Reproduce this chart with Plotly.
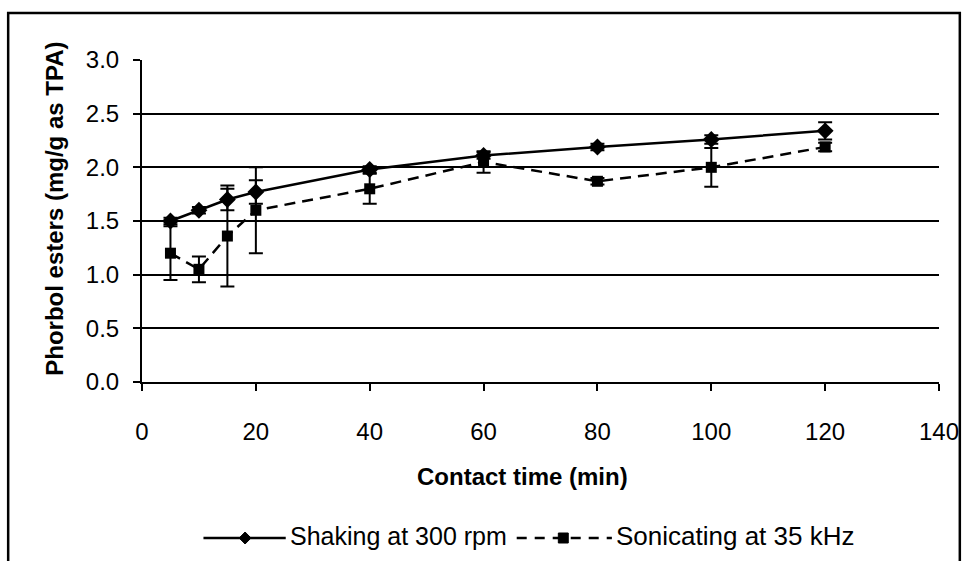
import plotly.graph_objects as go

# Contact time (min)
contact_time = [5, 10, 15, 20, 40, 60, 80, 100, 120]

# Phorbol ester yield (mg/g as TPA) and standard deviations
shaking = [1.50, 1.60, 1.70, 1.77, 1.98, 2.11, 2.19, 2.26, 2.34]
shaking_err = [0.03, 0.03, 0.10, 0.11, 0.03, 0.03, 0.03, 0.04, 0.08]

sonicating = [1.20, 1.05, 1.36, 1.60, 1.80, 2.05, 1.87, 2.00, 2.19]
sonicating_err = [0.25, 0.12, 0.47, 0.40, 0.14, 0.10, 0.03, 0.18, 0.04]

y_ticks = [0.0, 0.5, 1.0, 1.5, 2.0, 2.5, 3.0]
x_ticks = [0, 20, 40, 60, 80, 100, 120, 140]

series_names = ["Shaking at 300 rpm", "Sonicating at 35 kHz"]

FONT = "Liberation Sans, Arial, sans-serif"
DASH = "11px,7px"

fig = go.Figure()

fig.add_trace(go.Scatter(
    x=contact_time, y=shaking, name=series_names[0],
    mode="lines+markers", showlegend=False,
    line=dict(color="black", width=2.5),
    marker=dict(symbol="diamond", size=13, color="black"),
    error_y=dict(type="data", array=shaking_err, visible=True,
                 color="black", thickness=2, width=7),
))

fig.add_trace(go.Scatter(
    x=contact_time, y=sonicating, name=series_names[1],
    mode="lines+markers", showlegend=False,
    line=dict(color="black", width=2.5, dash=DASH),
    marker=dict(symbol="square", size=11, color="black"),
    error_y=dict(type="data", array=sonicating_err, visible=True,
                 color="black", thickness=2, width=7),
))

# plot-area edges in pixels, used to place the frame, titles and legend
L, R, T, B = 142, 946, 60, 382
W, H = 971, 561
def px_x(p):
    return (p - L) / (R - L)
def px_y(p):
    return (B - p) / (B - T)

# chart-area frame
fig.add_shape(type="rect", xref="paper", yref="paper",
              x0=px_x(7), x1=px_x(967), y0=px_y(566), y1=px_y(13),
              line=dict(color="black", width=2.5), layer="below")

# axis titles
fig.add_annotation(xref="paper", yref="paper", x=px_x(53), y=px_y(209),
                   text="<b>Phorbol esters (mg/g as TPA)</b>", textangle=-90,
                   showarrow=False, xanchor="center", yanchor="middle",
                   font=dict(family=FONT, size=24, color="black"))

fig.add_annotation(xref="paper", yref="paper", x=px_x(526), y=px_y(476),
                   text="<b>Contact time (min)</b>",
                   showarrow=False, xanchor="center", yanchor="middle",
                   font=dict(family=FONT, size=24, color="black"))

# legend below the chart: long line samples with the marker in the middle
LEG_Y = 538
def diamond_path(cx, cy, r):
    return (f"M{px_x(cx - r)},{px_y(cy)} L{px_x(cx)},{px_y(cy - r)} "
            f"L{px_x(cx + r)},{px_y(cy)} L{px_x(cx)},{px_y(cy + r)} Z")

fig.add_shape(type="line", xref="paper", yref="paper",
              x0=px_x(204), x1=px_x(287), y0=px_y(LEG_Y), y1=px_y(LEG_Y),
              line=dict(color="black", width=2.5))
fig.add_shape(type="path", xref="paper", yref="paper",
              path=diamond_path(246, LEG_Y, 6),
              fillcolor="black", line=dict(color="black", width=1))
fig.add_annotation(xref="paper", yref="paper", x=px_x(289), y=px_y(LEG_Y - 2),
                   text=series_names[0], showarrow=False,
                   xanchor="left", yanchor="middle",
                   font=dict(family=FONT, size=25, color="black"))

fig.add_shape(type="line", xref="paper", yref="paper",
              x0=px_x(520), x1=px_x(616), y0=px_y(LEG_Y), y1=px_y(LEG_Y),
              line=dict(color="black", width=2.5, dash="10px,8px"))
fig.add_shape(type="rect", xref="paper", yref="paper",
              x0=px_x(562), x1=px_x(572), y0=px_y(LEG_Y + 5), y1=px_y(LEG_Y - 5),
              fillcolor="black", line=dict(color="black", width=1))
fig.add_annotation(xref="paper", yref="paper", x=px_x(618), y=px_y(LEG_Y - 2),
                   text=series_names[1], showarrow=False,
                   xanchor="left", yanchor="middle",
                   font=dict(family=FONT, size=26, color="black"))

fig.update_layout(
    width=W, height=H,
    margin=dict(l=L, r=W - R, t=T, b=H - B),
    paper_bgcolor="white", plot_bgcolor="white",
    font=dict(family=FONT, color="black", size=23),
    showlegend=False,
    xaxis=dict(
        range=[0, 140], tickvals=x_ticks, ticktext=[str(v) for v in x_ticks],
        showgrid=False, zeroline=False,
        showline=True, linecolor="black", linewidth=2,
        ticks="outside", ticklen=7, tickcolor="black", tickwidth=1.5,
        tickfont=dict(family=FONT, size=24),
        ticklabelstandoff=20,
    ),
    yaxis=dict(
        range=[0, 3.0], tickvals=y_ticks,
        ticktext=[f"{v:.1f}" for v in y_ticks],
        showgrid=True, gridcolor="black", gridwidth=2,
        zeroline=False,
        showline=True, linecolor="black", linewidth=2,
        ticks="outside", ticklen=7, tickcolor="black", tickwidth=1.5,
        tickfont=dict(family=FONT, size=24),
        ticklabelstandoff=9,
    ),
)

fig.write_html("out.html")
